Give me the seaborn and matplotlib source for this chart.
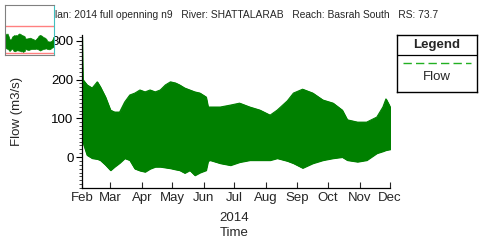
import matplotlib
matplotlib.use("Agg")
import matplotlib.pyplot as plt
import matplotlib.dates as mdates
from matplotlib.ticker import MultipleLocator
import numpy as np
import pandas as pd
import seaborn as sns

# ---- data (envelope of the tidal flow series) ----
dates = ["2014-02-01 00:00", "2014-02-01 18:00", "2014-02-06 00:00", "2014-02-11 00:00", "2014-02-16 00:00",
         "2014-02-19 00:00", "2014-02-24 00:00", "2014-03-01 00:00", "2014-03-05 00:00", "2014-03-10 00:00",
         "2014-03-15 00:00", "2014-03-20 00:00", "2014-03-25 00:00", "2014-03-30 00:00", "2014-04-04 00:00",
         "2014-04-09 00:00", "2014-04-14 00:00", "2014-04-19 00:00", "2014-04-24 00:00", "2014-04-29 00:00",
         "2014-05-04 00:00", "2014-05-08 00:00", "2014-05-13 00:00", "2014-05-18 00:00", "2014-05-23 00:00",
         "2014-05-28 00:00", "2014-06-03 00:00", "2014-06-05 00:00", "2014-06-07 00:00", "2014-06-17 00:00",
         "2014-06-27 00:00", "2014-07-06 00:00", "2014-07-16 00:00", "2014-07-26 00:00", "2014-08-05 00:00",
         "2014-08-12 00:00", "2014-08-22 00:00", "2014-08-28 00:00", "2014-09-06 00:00", "2014-09-16 00:00",
         "2014-09-26 00:00", "2014-10-06 00:00", "2014-10-15 00:00", "2014-10-20 00:00", "2014-10-30 00:00",
         "2014-11-08 00:00", "2014-11-18 00:00", "2014-11-24 00:00", "2014-11-27 00:00", "2014-12-01 00:00"]
flow_upper = [310, 200, 186, 178, 194, 181, 155, 121, 116, 116,
              142, 160, 165, 173, 168, 173, 168, 173, 186, 194,
              191, 186, 178, 173, 168, 165, 155, 129, 129, 129,
              134, 139, 129, 121, 108, 121, 145, 165, 175, 165,
              147, 139, 121, 96, 90, 90, 103, 129, 150, 130]
flow_lower = [44, 40, 5, -3, -5, -8, -20, -34, -25, -15,
              -3, -8, -30, -35, -38, -30, -25, -25, -27, -29,
              -32, -34, -41, -34, -47, -40, -34, -10, -8, -16,
              -21, -13, -8, -8, -8, -3, -10, -16, -28, -16,
              -8, -3, 0, -8, -12, -8, 10, 15, 18, 20]
month_labels = ["Feb", "Mar", "Apr", "May", "Jun", "Jul", "Aug", "Sep", "Oct", "Nov", "Dec"]
header = "Plan: 2014 full openning n9   River: SHATTALARAB   Reach: Basrah South   RS: 73.7"

df = pd.DataFrame({"Time": pd.to_datetime(dates, format="%Y-%m-%d %H:%M"),
                   "upper": flow_upper, "lower": flow_lower})

sns.set_style("ticks")
plt.rcParams["font.family"] = ["Liberation Sans", "DejaVu Sans"]

W, H = 480, 246
fig = plt.figure(figsize=(W / 100, H / 100), dpi=100)
ax = fig.add_axes([82 / W, 1 - 188 / H, (390 - 82) / W, (188 - 35) / H])

green = "#008000"
ax.fill_between(df["Time"], df["lower"], df["upper"], color=green, linewidth=0.8, edgecolor=green)
sns.lineplot(data=df, x="Time", y="upper", ax=ax, color=green, linewidth=0.8)
sns.lineplot(data=df, x="Time", y="lower", ax=ax, color=green, linewidth=0.8)

ax.set_ylim(-80, 315)
ax.set_xlim(pd.Timestamp("2014-02-01"), pd.Timestamp("2014-12-01"))
ax.yaxis.set_major_locator(MultipleLocator(100))
ax.yaxis.set_minor_locator(MultipleLocator(10))
month_pos = pd.date_range("2014-02-01", "2014-12-01", freq="MS")
ax.set_xticks(month_pos)
ax.set_xticklabels(month_labels)
ax.tick_params(axis="y", which="major", direction="out", length=4, width=0.8, labelsize=9.5, pad=2, colors="black")
ax.tick_params(axis="y", which="minor", direction="out", length=2, width=0.6)
ax.tick_params(axis="x", which="major", direction="in", length=4, width=0.8, labelsize=9.5, pad=3)
ax.set_xlabel("")
ax.set_ylabel("Flow (m3/s)", fontsize=9.5)
ax.yaxis.set_label_coords(-0.19, 0.5)
for s in ["top", "right"]:
    ax.spines[s].set_visible(False)
for s in ["left", "bottom"]:
    ax.spines[s].set_color("black")
    ax.spines[s].set_linewidth(0.9)

fig.text(234 / W, 1 - 218 / H, "2014", ha="center", va="center", fontsize=9.5)
fig.text(234 / W, 1 - 233 / H, "Time", ha="center", va="center", fontsize=9.5)
fig.text(48 / W, 1 - 15 / H, header, ha="left", va="center", fontsize=7.35, zorder=0)

# legend box
lax = fig.add_axes([397 / W, 1 - 92 / H, (477 - 397) / W, (92 - 35) / H])
lax.set_xlim(0, 1)
lax.set_ylim(0, 1)
lax.set_xticks([])
lax.set_yticks([])
for s in lax.spines.values():
    s.set_color("black")
    s.set_linewidth(1.0)
lax.axhline(1 - 20 / 57, color="black", linewidth=0.9)
lax.text(0.5, 1 - 10 / 57, "Legend", ha="center", va="center", fontsize=9.5, fontweight="bold")
lax.plot([0.08, 0.92], [1 - 28 / 57, 1 - 28 / 57], color="#22b022", linestyle=(0, (6, 3)), linewidth=1.0)
lax.text(0.5, 1 - 42 / 57, "Flow", ha="center", va="center", fontsize=9.5)

# thumbnail overview
tax = fig.add_axes([5 / W, 1 - 55 / H, 49 / W, 50 / H])
tax.set_zorder(5)
tax.fill_between(df["Time"], df["lower"], df["upper"], color=green, linewidth=0.5, edgecolor=green)
tax.axhline(291, color="#ff8080", linewidth=1.0)
tax.axhline(-60, color="#ff8080", linewidth=1.0)
tax.set_ylim(-86, 564)
tax.set_xlim(pd.Timestamp("2014-02-01"), pd.Timestamp("2014-12-01"))
tax.set_xticks([])
tax.set_yticks([])
tax.set_xlabel("")
tax.set_ylabel("")
for s in tax.spines.values():
    s.set_color("#808080")
    s.set_linewidth(0.8)
tax.spines["right"].set_color("#40c0c0")

fig.savefig("out.png", dpi=100)
